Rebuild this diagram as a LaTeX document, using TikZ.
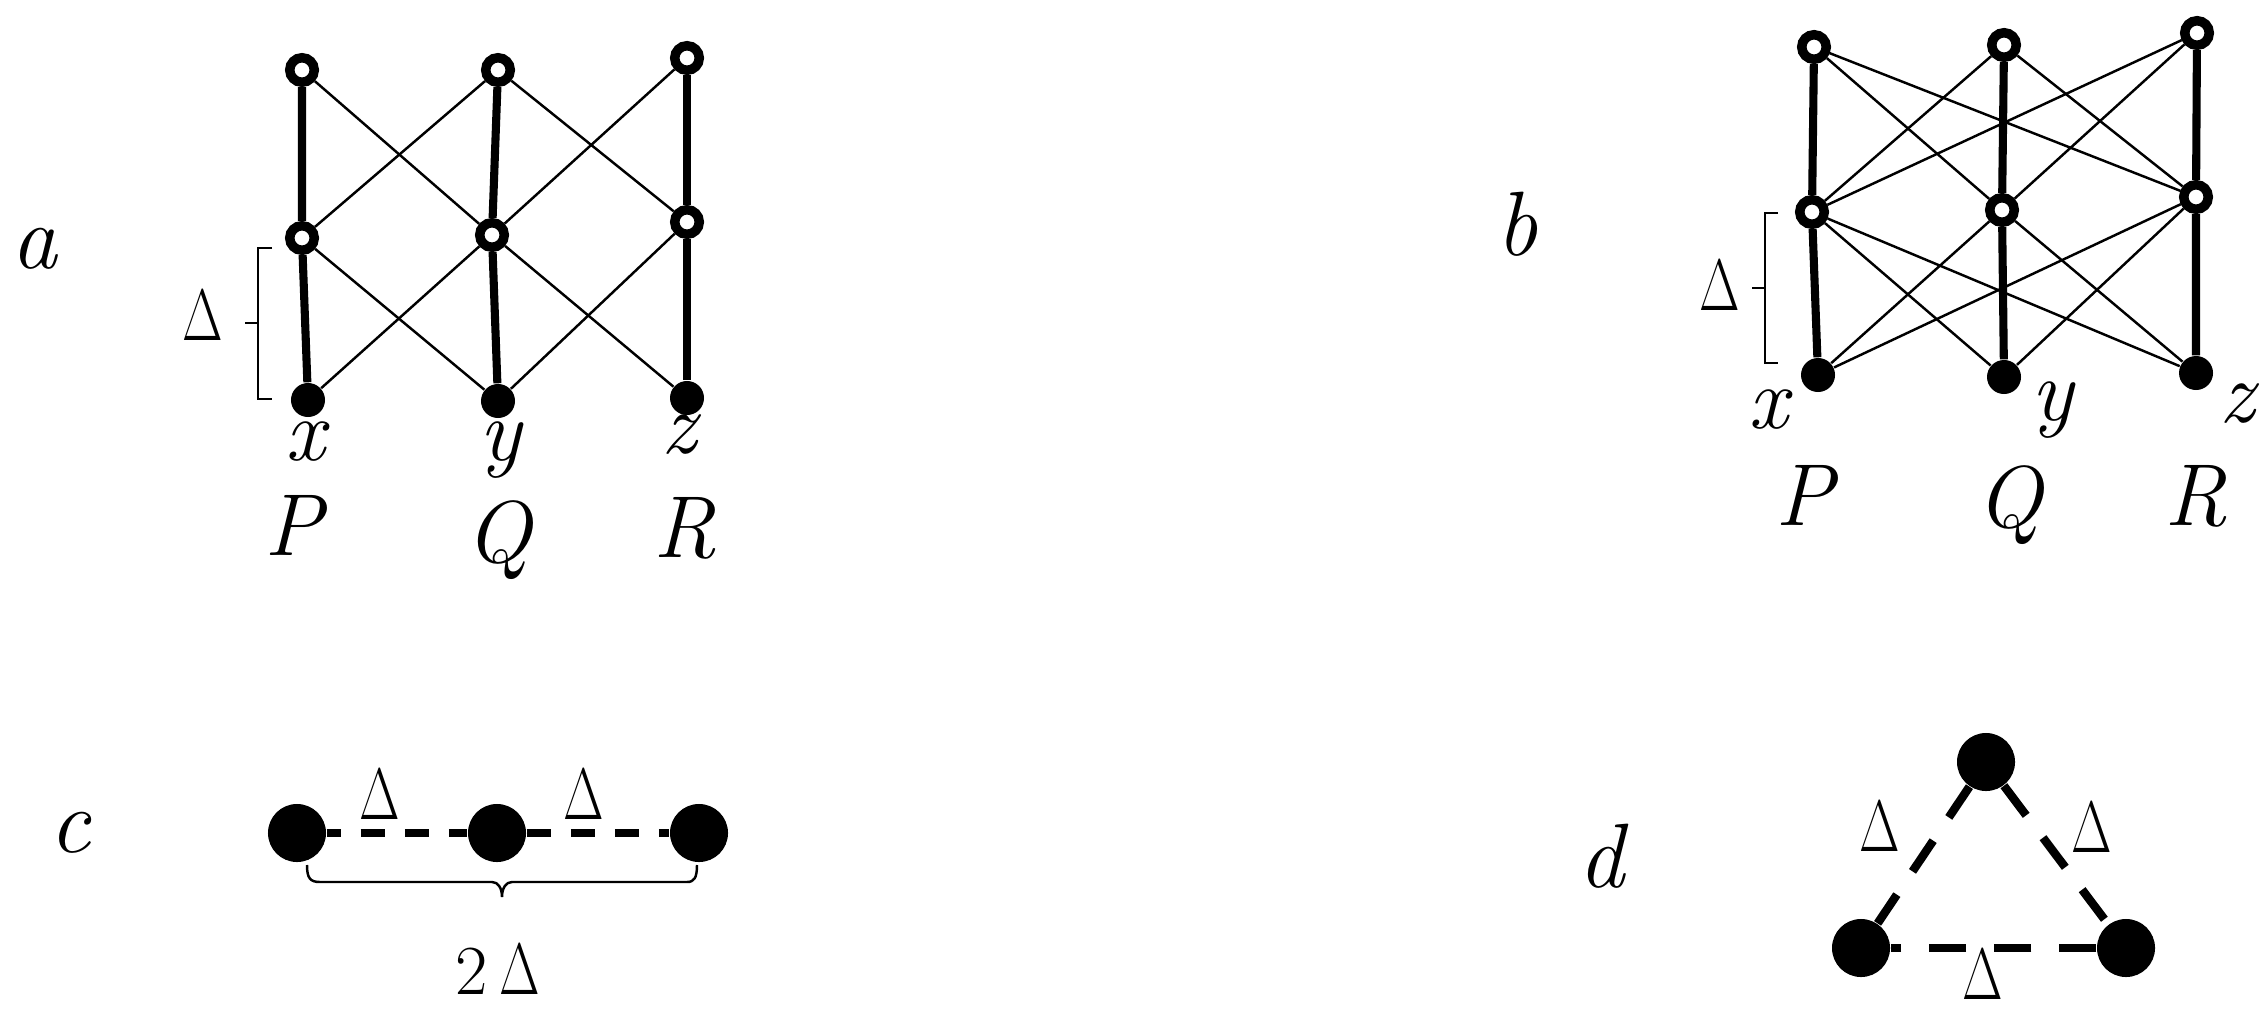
\documentclass[tikz,border=0pt]{standalone}
\usepackage{graphicx}
\newcommand{\Dlt}{\scalebox{0.72}[1]{$\Delta$}}
\begin{document}
\begin{tikzpicture}[x=0.01cm,y=-0.01cm,
  tedge/.style={line width=0.7pt},
  vedge/.style={line width=2.3pt},
  opennode/.style={circle,draw,fill=white,line width=2.7pt,minimum size=0.245cm,inner sep=0pt},
  fullnode/.style={circle,fill,minimum size=0.34cm,inner sep=0pt},
  bignode/.style={circle,fill,minimum size=0.58cm,inner sep=0pt},
  lab/.style={font=\fontsize{25}{30}\selectfont\itshape,anchor=base,inner sep=0pt},
  panel/.style={font=\fontsize{26}{31}\selectfont\itshape,anchor=base,inner sep=0pt},
  deltalab/.style={font=\fontsize{20}{24}\selectfont,inner sep=0pt},
  bracket/.style={line width=0.7pt},
  cdash/.style={line width=2.2pt,dash pattern=on 0.24cm off 0.2cm},
  ddash/.style={line width=2.4pt,dash pattern=on 0.37cm off 0.28cm}]
\useasboundingbox (0,0) rectangle (2267,1015);

% ---------- panel a ----------
\node[opennode] (aP3) at (302,70) {};
\node[opennode] (aP2) at (302,238) {};
\node[fullnode] (aP1) at (308,400) {};
\node[opennode] (aQ3) at (498,70) {};
\node[opennode] (aQ2) at (492,235) {};
\node[fullnode] (aQ1) at (498,401) {};
\node[opennode] (aR3) at (687,58) {};
\node[opennode] (aR2) at (687,222) {};
\node[fullnode] (aR1) at (687,398) {};
\draw[tedge] (aP3) -- (aQ2);
\draw[tedge] (aQ3) -- (aP2);
\draw[tedge] (aQ3) -- (aR2);
\draw[tedge] (aR3) -- (aQ2);
\draw[tedge] (aP2) -- (aQ1);
\draw[tedge] (aQ2) -- (aP1);
\draw[tedge] (aQ2) -- (aR1);
\draw[tedge] (aR2) -- (aQ1);
\draw[vedge] (aP3) -- (aP2) -- (aP1);
\draw[vedge] (aQ3) -- (aQ2) -- (aQ1);
\draw[vedge] (aR3) -- (aR2) -- (aR1);
\node[lab] (ax) at (305,460) {x};
\node[lab] (ay) at (500,460) {y};
\node[lab] (az) at (679,453) {z};
\node[lab] (aPl) at (294,555) {P};
\node[lab] (aQl) at (498,562) {Q};
\node[lab] (aRl) at (685,557) {R};
\node[panel] (pa) at (34,268) {a};
\node[deltalab] (aD) at (203,316) {\Dlt};
\draw[bracket] (272,248) -- (258,248) -- (258,399) -- (272,399);
\draw[bracket] (258,323) -- (245,323);

% ---------- panel b ----------
\node[opennode] (bP3) at (1814,47) {};
\node[opennode] (bP2) at (1812,212) {};
\node[fullnode] (bP1) at (1818,375) {};
\node[opennode] (bQ3) at (2004,45) {};
\node[opennode] (bQ2) at (2002,210) {};
\node[fullnode] (bQ1) at (2004,377) {};
\node[opennode] (bR3) at (2197,33) {};
\node[opennode] (bR2) at (2196,197) {};
\node[fullnode] (bR1) at (2196,373) {};
\draw[tedge] (bP3) -- (bQ2);
\draw[tedge] (bP3) -- (bR2);
\draw[tedge] (bQ3) -- (bP2);
\draw[tedge] (bQ3) -- (bR2);
\draw[tedge] (bR3) -- (bP2);
\draw[tedge] (bR3) -- (bQ2);
\draw[tedge] (bP2) -- (bQ1);
\draw[tedge] (bP2) -- (bR1);
\draw[tedge] (bQ2) -- (bP1);
\draw[tedge] (bQ2) -- (bR1);
\draw[tedge] (bR2) -- (bP1);
\draw[tedge] (bR2) -- (bQ1);
\draw[vedge] (bP3) -- (bP2) -- (bP1);
\draw[vedge] (bQ3) -- (bQ2) -- (bQ1);
\draw[vedge] (bR3) -- (bR2) -- (bR1);
\node[lab] (bx) at (1768,428) {x};
\node[lab] (by) at (2052,420) {y};
\node[lab] (bz) at (2237,422) {z};
\node[lab] (bPl) at (1805,525) {P};
\node[lab] (bQl) at (2009,527) {Q};
\node[lab] (bRl) at (2196,525) {R};
\node[panel] (pb) at (1517,255) {b};
\node[deltalab] (bD) at (1720,286) {\Dlt};
\draw[bracket] (1778,213) -- (1765,213) -- (1765,363) -- (1778,363);
\draw[bracket] (1765,288) -- (1752,288);

% ---------- panel c ----------
\node[bignode] (c1) at (297,833) {};
\node[bignode] (c2) at (497,833) {};
\node[bignode] (c3) at (699,833) {};
\draw[cdash,dash phase=0.1cm] (c1) -- (c2);
\draw[cdash] (c2) -- (c3);
\node[deltalab] (cD1) at (380,795) {\Dlt};
\node[deltalab] (cD2) at (584,795) {\Dlt};
\node[deltalab] (cD3) at (498,970) {2\,\Dlt};
\node[panel] (pc) at (70,852) {c};
\draw[bracket] (307,865) .. controls (307,878) and (310,882) .. (320,882) -- (492,882)
  .. controls (498,882) and (502,888) .. (502,897)
  .. controls (502,888) and (506,882) .. (512,882) -- (687,882)
  .. controls (694,882) and (697,878) .. (697,865);

% ---------- panel d ----------
\node[bignode] (dt) at (1986,762) {};
\node[bignode] (dlf) at (1861,948) {};
\node[bignode] (drt) at (2126,948) {};
\draw[ddash] (dt) -- (dlf);
\draw[ddash] (dt) -- (drt);
\draw[ddash] (drt) -- (dlf);
\node[deltalab] (dD1) at (1880,827) {\Dlt};
\node[deltalab] (dD2) at (2092,828) {\Dlt};
\node[deltalab] (dD3) at (1983,975) {\Dlt};
\node[panel] (pd) at (1601,887) {d};
\end{tikzpicture}
\end{document}
